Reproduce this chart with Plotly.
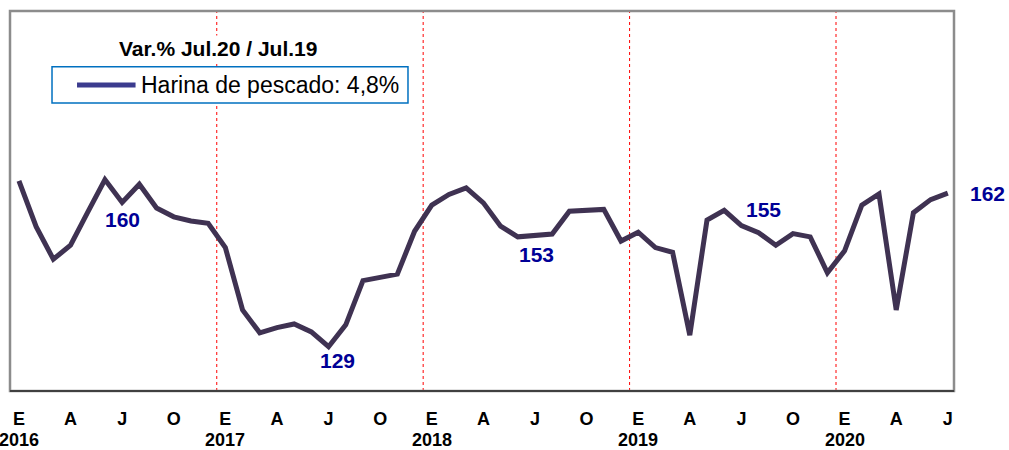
import plotly.graph_objects as go

# Harina de pescado, indice mensual Ene.2016 - Jul.2020
anios = [2016, 2017, 2018, 2019, 2020]
meses = ["E", "F", "M", "A", "M", "J", "J", "A", "S", "O", "N", "D"]
valores = [
    164.6, 154.8, 147.8, 150.8, 157.9, 164.9, 160.0, 163.9, 158.8, 156.9, 156.0, 155.5,  # 2016
    150.3, 136.9, 132.0, 133.1, 133.9, 132.2, 129.0, 133.7, 143.2, 143.9, 144.6, 153.8,  # 2017
    159.4, 161.7, 163.1, 159.9, 154.9, 152.6, 153.0, 153.2, 158.1, 158.3, 158.5, 151.7,  # 2018
    153.6, 150.3, 149.3, 131.5, 156.2, 158.3, 155.0, 153.5, 150.8, 153.3, 152.6, 144.9,  # 2019
    149.6, 159.4, 161.8, 136.9, 157.8, 160.6, 162.0,                                      # 2020
]
leyenda = "Harina de pescado: 4,8%"
titulo = "Var.% Jul.20 / Jul.19"

n = len(valores)
x = list(range(n))
etiquetas_mes = [meses[i % 12] for i in x]
tick_idx = [i for i in x if i % 3 == 0]
ene_idx = [i for i in x if i % 12 == 0]
julios = [i for i in x if i % 12 == 6]

FONT = "Liberation Sans, Arial, sans-serif"
LINE_COLOR = "#3F3252"
LABEL_COLOR = "#000096"

fig = go.Figure()
fig.add_trace(go.Scatter(x=x, y=valores, mode="lines", name=leyenda,
                         line=dict(color=LINE_COLOR, width=5),
                         showlegend=False, hoverinfo="skip"))

# separadores de anio (punteado rojo)
for i in ene_idx[1:]:
    fig.add_shape(type="line", xref="x", yref="paper", x0=i - 0.5, x1=i - 0.5,
                  y0=0, y1=1, line=dict(color="red", width=1, dash="dot"), layer="below")

# marco del grafico
fig.add_shape(type="rect", xref="paper", yref="paper", x0=0, x1=1, y0=0, y1=1,
              line=dict(color="#8C8C8C", width=2.5))
fig.add_shape(type="line", xref="paper", yref="paper", x0=0, x1=1, y0=0, y1=0,
              line=dict(color="#404040", width=2))

# cuadro de leyenda
fig.add_shape(type="rect", xref="paper", yref="paper", x0=0.0445, x1=0.4216,
              y0=0.758, y1=0.853, fillcolor="white",
              line=dict(color="#0070C0", width=1.5), layer="above")
fig.add_shape(type="line", xref="paper", yref="paper", x0=0.071, x1=0.133,
              y0=0.805, y1=0.805, line=dict(color="#3B3B8E", width=5), layer="above")
fig.add_annotation(x=0.1367, y=0.805, xref="paper", yref="paper", showarrow=False,
                   text=leyenda, xanchor="left", yanchor="middle",
                   font=dict(family=FONT, size=23, color="black"))

# etiquetas de julio
desp = {6: (0, -17), 18: (9, -14), 30: (2, -19), 42: (22, 16), 54: (40, 0)}
for i in julios:
    dx, dy = desp.get(i, (0, -17))
    fig.add_annotation(x=i, y=valores[i], xref="x", yref="y", showarrow=False,
                       text=f"<b>{valores[i]:.0f}</b>", xshift=dx, yshift=dy,
                       font=dict(family=FONT, size=21, color=LABEL_COLOR))

# anios bajo el eje
for k, i in enumerate(ene_idx):
    fig.add_annotation(x=i, y=-0.128, xref="x", yref="paper", showarrow=False,
                       text=f"<b>{anios[k]}</b>", yanchor="middle", xanchor="center",
                       borderpad=0,
                       font=dict(family=FONT, size=18, color="black"))

fig.add_annotation(x=0.22, y=0.9, xref="paper", yref="paper", showarrow=False,
                   text=f"<b>{titulo}</b>", xanchor="center", yanchor="middle",
                   bgcolor="white",
                   font=dict(family=FONT, size=21, color="black"))

fig.update_layout(
    width=1009, height=450,
    margin=dict(l=10, r=55, t=11, b=59),
    paper_bgcolor="white", plot_bgcolor="white",
    font=dict(family=FONT, color="black"),
    showlegend=False,
    xaxis=dict(range=[-0.52, 54.36], tickmode="array", tickvals=tick_idx,
               ticktext=[f"<b>{etiquetas_mes[i]}</b>" for i in tick_idx],
               tickfont=dict(family=FONT, size=18, color="black"),
               ticks="", showgrid=False, zeroline=False, ticklabelstandoff=15),
    yaxis=dict(range=[119.5, 201.1], showticklabels=False, ticks="",
               showgrid=False, zeroline=False),
)

# sin margen del body para que el grafico ocupe toda la ventana
fig.write_html("out.html", config={"displayModeBar": False},
               post_script="document.body.style.margin='0';")
